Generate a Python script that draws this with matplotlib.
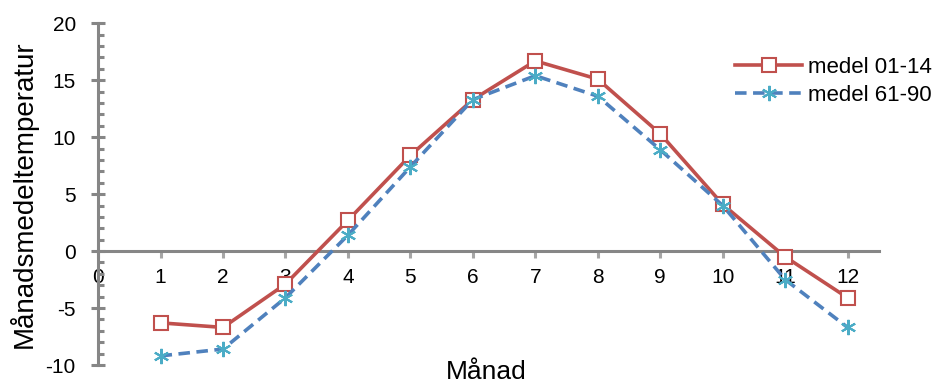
import matplotlib
matplotlib.use("Agg")
import matplotlib.pyplot as plt
from matplotlib.ticker import MultipleLocator

plt.rcParams['font.family'] = ['Liberation Sans', 'DejaVu Sans']

months = [1, 2, 3, 4, 5, 6, 7, 8, 9, 10, 11, 12]
medel_01_14 = [-6.3, -6.7, -2.9, 2.7, 8.4, 13.3, 16.7, 15.1, 10.3, 4.1, -0.5, -4.1]
medel_61_90 = [-9.2, -8.6, -4.1, 1.4, 7.4, 13.3, 15.4, 13.6, 8.9, 4.0, -2.5, -6.7]
x_ticks = list(range(0, 13))
y_ticks = [-10, -5, 0, 5, 10, 15, 20]

fig = plt.figure(figsize=(9.32, 3.86), dpi=100)
ax = fig.add_axes([0.1052, 0.0544, 0.8378, 0.8852])

ax.plot(months, medel_01_14, color='#C0504D', lw=2.6, marker='s', ms=10,
        mfc='white', mec='#C0504D', mew=1.5, label='medel 01-14', zorder=3)
ax.plot(months, medel_61_90, color='#4F81BD', lw=2.6, ls=(0, (3.2, 1.8)),
        marker=(6, 2, 0), ms=11, mec='#4BACC6', mew=1.5,
        label='medel 61-90', zorder=4)

ax.set_xlim(0, 12.5)
ax.set_ylim(-10, 20)

axis_grey = '#868686'
for side in ['top', 'right']:
    ax.spines[side].set_visible(False)
ax.spines['left'].set_color(axis_grey)
ax.spines['left'].set_linewidth(2.2)
ax.spines['bottom'].set_color(axis_grey)
ax.spines['bottom'].set_linewidth(2.2)
ax.spines['bottom'].set_position(('data', 0))

ax.set_xticks(x_ticks)
ax.set_xticklabels([str(t) for t in x_ticks])
ax.set_yticks(y_ticks)
ax.set_yticklabels([str(t) for t in y_ticks])
ax.yaxis.set_minor_locator(MultipleLocator(1))

ax.tick_params(axis='x', which='major', direction='out', length=5, width=2.2,
               color='#A6A6A6', labelsize=15, pad=7)
ax.tick_params(axis='y', which='major', direction='inout', length=10, width=2.2,
               color=axis_grey, labelsize=15, pad=11)
ax.tick_params(axis='y', which='minor', direction='in', length=4, width=2.2,
               color=axis_grey)

fig.text(0.025, 0.497, 'Månadsmedeltemperatur', rotation=90,
         ha='center', va='center', fontsize=20)
fig.text(0.522, 0.004, 'Månad', ha='center', va='bottom', fontsize=19)

ax.legend(loc='upper left', bbox_to_anchor=(0.789, 0.852),
          bbox_transform=fig.transFigure, frameon=False, fontsize=16,
          handlelength=3.0, handletextpad=0.25, labelspacing=0.3,
          borderpad=0, borderaxespad=0)

fig.savefig('out.png', dpi=100)
